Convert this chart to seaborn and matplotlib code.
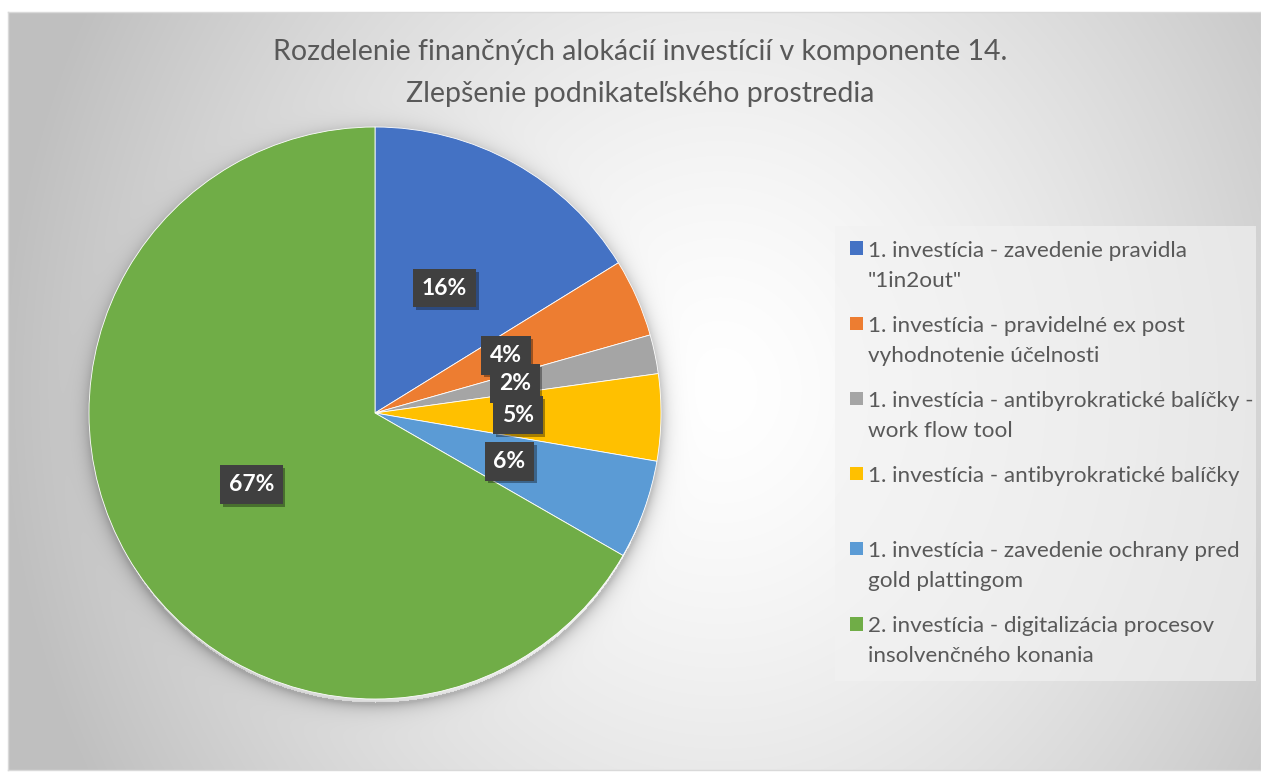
import numpy as np
import matplotlib
matplotlib.use("Agg")
import matplotlib.pyplot as plt
import matplotlib.patheffects as pe
from matplotlib.patches import Rectangle, Wedge
from matplotlib.legend_handler import HandlerPatch
import seaborn as sns

sns.set_theme(style="white")
plt.rcParams['font.family'] = ['Lato', 'DejaVu Sans']

# data
labels = [
    '1. investícia - zavedenie pravidla\n"1in2out"',
    '1. investícia - pravidelné ex post\nvyhodnotenie účelnosti',
    '1. investícia - antibyrokratické balíčky -\nwork flow tool',
    '1. investícia - antibyrokratické balíčky\n ',
    '1. investícia - zavedenie ochrany pred\ngold plattingom',
    '2. investícia - digitalizácia procesov\ninsolvenčného konania',
]
shares = [16.2, 4.4, 2.2, 4.9, 5.6, 66.7]
colors = sns.color_palette(["#4472C4", "#ED7D31", "#A5A5A5", "#FFC000", "#5B9BD5", "#70AD47"])
title = "Rozdelenie finančných alokácií investícií v komponente 14.\nZlepšenie podnikateľského prostredia"

W, H = 1261, 779
fig = plt.figure(figsize=(W / 100, H / 100), dpi=100)
fig.patch.set_facecolor("white")

# panel with radial gradient background (pixel coords)
px0, py0, px1, py1 = 8, 12, 1261, 770
bg = fig.add_axes([px0 / W, 1 - py1 / H, (px1 - px0) / W, (py1 - py0) / H])
yy, xx = np.mgrid[py0:py1, px0:px1]
d = np.sqrt(((xx - 720) / 720.0) ** 2 + ((yy - 390) / 820.0) ** 2)
g = 1.0 - 0.25 * np.clip(d, 0, 1) ** 1.4
# soft shadow under the pie
cx, cy, R = 375, 413, 286
ds = np.sqrt((xx - cx) ** 2 + (yy - cy - 5) ** 2) - R
g = g * (1 - 0.22 * np.exp(-np.clip(ds, 0, None) / 7.0) * (ds > -2))
img = np.dstack([g, g, g])
bg.imshow(img, extent=[0, 1, 0, 1], aspect="auto", interpolation="bilinear")
bg.set_xlim(0, 1)
bg.set_ylim(0, 1)
bg.set_xticks([])
bg.set_yticks([])
for s in bg.spines.values():
    s.set_color("#d9d9d9")
    s.set_linewidth(1)

# pie
ax = fig.add_axes([(cx - R) / W, 1 - (cy + R) / H, 2 * R / W, 2 * R / H])
ax.patch.set_alpha(0)
wedges, texts, autotexts = ax.pie(
    shares, colors=colors, startangle=90, counterclock=False,
    autopct=lambda p: f"{p:.0f}%", pctdistance=0.5,
    wedgeprops=dict(linewidth=0.6, edgecolor="white"),
    textprops=dict(color="white", fontsize=16.5, fontweight="bold"),
)
ax.set_xlim(-1, 1)
ax.set_ylim(-1, 1)
for t in autotexts:
    t.set_bbox(dict(boxstyle="square,pad=0.38", fc="#404040", ec="none"))
    t.get_bbox_patch().set_path_effects([
        pe.SimplePatchShadow(offset=(2, -2), shadow_rgbFace="black", alpha=0.35),
        pe.Normal()])

fig.text(640 / W, 1 - 73 / H, title, ha="center", va="center",
         fontsize=20.5, color="#595959", linespacing=1.72)


class TopSquare(HandlerPatch):
    def __init__(self, shift, **kw):
        super().__init__(**kw)
        self.shift = shift

    def create_artists(self, legend, orig_handle, xdescent, ydescent,
                       width, height, fontsize, trans):
        s = 0.6 * fontsize
        p = Rectangle((-xdescent, -ydescent + self.shift), s, s,
                      facecolor=orig_handle.get_facecolor(), edgecolor="none",
                      transform=trans)
        return [p]


leg = fig.legend(
    wedges, labels, loc="upper left",
    bbox_to_anchor=(835 / W, 1 - 234 / H, (1256 - 835) / W, 0.01),
    mode="expand", borderaxespad=0, fontsize=16.2, labelcolor="#595959",
    handlelength=0.6, handleheight=0.6, handletextpad=0.2,
    labelspacing=1.12, borderpad=0.65, frameon=True,
    handler_map={Wedge: TopSquare(shift=13)},
)
fr = leg.get_frame()
fr.set_facecolor("#f2f2f2")
fr.set_alpha(0.65)
fr.set_edgecolor("none")
fr.set_boxstyle("square", pad=0)
for t in leg.get_texts():
    t.set_linespacing(1.62)

fig.savefig("out.png", dpi=100)
